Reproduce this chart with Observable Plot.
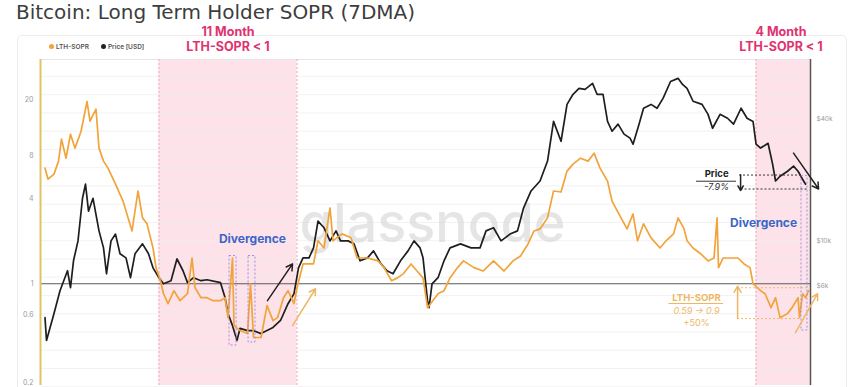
<!DOCTYPE html>
<html><head><meta charset="utf-8">
<script src="https://cdn.jsdelivr.net/npm/d3@7"></script>
<script src="https://cdn.jsdelivr.net/npm/@observablehq/plot@0.6"></script>
<style>
html,body{margin:0;padding:0;background:#fff;}
#wrap{position:relative;width:864px;height:387px;overflow:hidden;font-family:Inter,Roboto,"Noto Sans",sans-serif;}
#card{position:absolute;left:17px;top:35px;width:830px;height:380px;border:1px solid #ececec;border-radius:5px;box-sizing:border-box;}
#chart{position:absolute;left:0;top:0;}
#title{position:absolute;left:16px;top:2px;font-family:"DejaVu Sans",sans-serif;font-size:20px;line-height:20px;color:#3d3d3d;white-space:nowrap;}
.head{position:absolute;top:24px;width:140px;text-align:center;color:#e0326f;font-weight:700;font-size:12.5px;line-height:15px;}
#legend{position:absolute;left:49px;top:43px;font-size:6.5px;line-height:8px;color:#555;font-weight:600;white-space:nowrap;}
#legend .dot{display:inline-block;width:5px;height:5px;border-radius:50%;margin-right:2px;}
#legend .item{margin-right:12px;}
</style></head><body>
<div id="wrap">
<div id="card"></div>
<div id="chart"></div>
<div id="title">Bitcoin: Long Term Holder SOPR (7DMA)</div>
<div class="head" style="left:158px">11 Month<br>LTH-SOPR &lt; 1</div>
<div class="head" style="left:711px">4 Month<br>LTH-SOPR &lt; 1</div>
<div id="legend"><span class="item"><span class="dot" style="background:#f2a33a"></span>LTH-SOPR</span><span class="item"><span class="dot" style="background:#222"></span>Price [USD]</span></div>
</div>
<script>
// ---- data ----
const priceYear = [2017.69,2017.70,2017.75,2017.79,2017.84,2017.86,2017.88,2017.91,2017.94,2017.96,
2017.98,2018.01,2018.05,2018.08,2018.10,2018.13,2018.16,2018.19,2018.23,2018.26,
2018.29,2018.34,2018.38,2018.41,2018.45,2018.48,2018.53,2018.57,2018.61,2018.64,
2018.68,2018.73,2018.77,2018.86,2018.89,2018.91,2018.94,2018.97,2018.99,2019.04,
2019.08,2019.13,2019.17,2019.21,2019.26,2019.31,2019.35,2019.38,2019.41,2019.45,
2019.48,2019.51,2019.55,2019.59,2019.63,2019.66,2019.71,2019.75,2019.79,2019.84,
2019.88,2019.93,2019.97,2020.01,2020.06,2020.11,2020.15,2020.19,2020.21,2020.24,
2020.25,2020.27,2020.31,2020.35,2020.39,2020.46,2020.53,2020.59,2020.63,2020.68,
2020.73,2020.79,2020.84,2020.88,2020.93,2020.99,2021.04,2021.08,2021.13,2021.17,
2021.21,2021.25,2021.29,2021.34,2021.37,2021.41,2021.44,2021.47,2021.51,2021.55,
2021.59,2021.61,2021.65,2021.68,2021.73,2021.77,2021.81,2021.86,2021.91,2021.94,
2021.97,2022.01,2022.07,2022.11,2022.14,2022.19,2022.24,2022.28,2022.33,2022.37,
2022.41,2022.43,2022.46,2022.51,2022.54,2022.56,2022.59,2022.64,2022.68,2022.71,
2022.74,2022.76];
const priceK = [4.19,3.24,4.39,5.69,7.13,5.89,7.98,10.0,16.2,19.0,
14.0,16.2,11.2,9.24,6.89,10.0,10.8,8.64,8.25,6.59,
8.64,9.67,8.64,7.37,6.59,6.15,6.37,8.16,7.13,6.23,
6.59,6.37,6.44,6.23,5.26,4.39,3.83,3.24,3.71,3.62,
3.62,3.50,3.62,3.75,4.06,4.91,5.50,7.37,8.25,8.25,
9.24,12.5,11.6,10.0,11.2,10.0,10.0,9.67,7.98,8.25,
8.93,7.71,7.13,6.89,7.98,8.93,10.0,9.24,8.25,5.08,
4.70,6.15,6.59,7.98,9.24,9.67,9.24,9.24,11.2,11.6,
10.0,10.8,11.2,14.5,17.6,19.7,24.7,38.7,30.9,46.9,
52.6,56.2,55.6,59.5,52.6,52.6,38.7,34.6,37.5,33.5,
32.0,29.9,37.5,44.9,46.9,44.9,50.2,60.8,63.0,58.8,
56.2,48.6,46.9,41.9,35.8,41.9,40.1,37.5,44.9,40.1,
38.7,29.9,28.6,30.2,23.9,19.7,20.8,22.0,23.3,22.0,
20.1,19.0];
const soprYear = [2017.69,2017.71,2017.75,2017.78,2017.80,2017.83,2017.86,2017.89,2017.93,2017.97,
2017.99,2018.03,2018.05,2018.08,2018.11,2018.16,2018.21,2018.25,2018.27,2018.31,
2018.34,2018.37,2018.41,2018.43,2018.46,2018.48,2018.51,2018.55,2018.59,2018.64,
2018.67,2018.69,2018.73,2018.77,2018.81,2018.86,2018.89,2018.91,2018.94,2018.95,
2018.99,2019.04,2019.06,2019.08,2019.13,2019.17,2019.21,2019.24,2019.28,2019.31,
2019.35,2019.37,2019.41,2019.44,2019.48,2019.51,2019.55,2019.59,2019.61,2019.67,
2019.73,2019.77,2019.84,2019.91,2019.95,2020.00,2020.04,2020.08,2020.13,2020.17,
2020.21,2020.24,2020.26,2020.31,2020.35,2020.39,2020.44,2020.48,2020.55,2020.61,
2020.68,2020.75,2020.81,2020.86,2020.91,2020.95,2020.99,2021.04,2021.08,2021.13,
2021.17,2021.21,2021.26,2021.31,2021.35,2021.39,2021.44,2021.47,2021.53,2021.57,
2021.61,2021.64,2021.68,2021.73,2021.79,2021.83,2021.88,2021.91,2021.95,2021.97,
2022.01,2022.06,2022.11,2022.15,2022.17,2022.18,2022.21,2022.26,2022.31,2022.35,
2022.39,2022.41,2022.46,2022.49,2022.53,2022.56,2022.59,2022.64,2022.67,2022.71,
2022.72,2022.74,2022.76,2022.78];
const soprValue = [6.56,5.49,5.95,7.35,10.5,7.71,11.4,9.08,11.9,19.4,
14.1,17.1,9.08,7.35,6.56,5.06,3.84,2.78,2.36,4.52,
2.92,2.65,1.79,1.30,1.05,0.85,0.723,0.893,0.759,0.85,
1.52,0.937,0.797,0.797,0.759,0.759,0.797,0.576,1.52,0.506,
0.467,0.445,1.0,0.417,0.417,0.700,0.549,0.576,0.797,0.893,
0.723,0.937,1.38,1.38,1.38,2.01,1.79,3.43,2.01,2.25,
2.11,1.52,1.52,1.45,1.30,1.05,1.10,1.18,1.38,1.23,
1.10,0.678,0.723,0.85,0.893,1.10,1.30,1.45,1.30,1.23,
1.45,1.23,1.45,1.57,1.91,2.36,2.44,2.92,4.52,4.45,
6.25,7.00,7.71,7.35,8.37,6.56,5.31,3.84,2.92,2.44,
3.11,2.01,2.65,2.11,1.79,2.01,2.25,2.92,2.44,2.01,
1.79,1.63,1.45,1.52,2.92,1.30,1.52,1.52,1.52,1.38,
1.30,1.0,0.893,0.85,0.678,0.797,0.576,0.615,0.678,0.797,
0.576,0.85,0.797,0.893];

const leftTicks = [20, 8, 4, 1, 0.6, 0.2];
const rightTicksK = [40, 10, 6];
const rightLabels = ["$40k", "$10k", "$6k"];
const regionStart = [2018.45, 2022.43];
const regionEnd = [2019.37, 2022.793];
const xDomain = [2017.66, 2022.793];
const yDomain = [0.191, 38.4];

// annotations (data coordinates)
const divergenceX = [2019.073, 2022.48];
const divergenceY = [2.07, 2.69];
const boxX1 = [2018.92, 2019.047, 2022.733];
const boxX2 = [2018.967, 2019.093, 2022.773];
const boxY1 = [0.366, 0.384, 0.467];
const boxY2 = [1.57, 1.57, 5.76];
const arrowsBlack = [[2019.173, 0.759, 2019.34, 1.38], [2022.68, 8.38, 2022.847, 4.67], [2022.327, 5.9, 2022.327, 4.55]];
const arrowsOrange = [[2019.34, 0.506, 2019.493, 0.922], [2022.693, 0.452, 2022.84, 0.85], [2022.307, 0.567, 2022.307, 0.96]];
const dottedBlack = [[5.86, 2022.32, 2022.733], [4.67, 2022.33, 2022.773]];
const dottedOrange = [[0.937, 2022.307, 2022.773], [0.567, 2022.307, 2022.733]];

// right (price) axis mapped onto the left (SOPR) log axis
const priceToAxis = k => 10 ** ((43 + (Math.log10(k) - 1) * 204) / 142);

const priceRows = priceYear.map((t, i) => ({t, k: priceK[i]}));
const soprRows = soprYear.map((t, i) => ({t, v: soprValue[i]}));
const regions = regionStart.map((s, i) => ({s, e: regionEnd[i]}));
const boxes = boxX1.map((x1, i) => ({x1, x2: boxX2[i], y1: boxY1[i], y2: boxY2[i]}));
const gridVals = d3.range(0, 18).map(i => 10 ** (1.465 - 0.129 * i));
const toArrow = a => ({x1: a[0], y1: a[1], x2: a[2], y2: a[3]});
const toRule = a => ({y: a[0], x1: a[1], x2: a[2]});

const orange = "#f2a33a", orangeLight = "#eeb765", blue = "#3b66c6";

const chart = Plot.plot({
  width: 864, height: 387,
  marginLeft: 40, marginRight: 54, marginTop: 59, marginBottom: 2,
  x: {domain: xDomain, axis: null},
  y: {type: "log", domain: yDomain, axis: null},
  style: {background: "transparent", overflow: "visible", fontFamily: "Inter, Roboto, sans-serif"},
  marks: [
    Plot.rect(regions, {x1: "s", x2: "e", fill: "#fde2ea"}),
    Plot.ruleY(gridVals, {stroke: "#ededed", strokeWidth: 0.7}),
    Plot.ruleY([yDomain[1]], {stroke: "#e6e6e6", strokeWidth: 1}),
    Plot.ruleX([regionStart[0], regionEnd[0], regionStart[1]], {stroke: "#eaa6bf", strokeDasharray: "2,2", strokeWidth: 1}),
    Plot.text(["glassnode"], {frameAnchor: "middle", dx: 7, dy: 2, text: d => d, fontSize: 54, fontWeight: 500, fill: "#d4d4d4", fillOpacity: 0.6}),
    Plot.ruleY([1], {stroke: "#5a5a5a", strokeWidth: 1.2}),
    Plot.line(priceRows, {x: "t", y: d => priceToAxis(d.k), stroke: "#1e1e1e", strokeWidth: 1.7}),
    Plot.line(soprRows, {x: "t", y: "v", stroke: orange, strokeWidth: 1.7}),
    Plot.ruleX([xDomain[0]], {stroke: "#e3c263", strokeWidth: 2}),
    Plot.ruleX([xDomain[1]], {stroke: "#555", strokeWidth: 1.5}),
    Plot.text(leftTicks, {y: d => d, text: d => String(d), frameAnchor: "left", dx: -7, textAnchor: "end", fontSize: 7, fill: "#9a9a9a"}),
    Plot.text(rightTicksK, {y: d => priceToAxis(d), text: (d, i) => rightLabels[i], frameAnchor: "right", dx: 6, textAnchor: "start", fontSize: 6.5, fill: "#9a9a9a"}),
    Plot.rect(boxes, {x1: "x1", x2: "x2", y1: "y1", y2: "y2", fill: "none", stroke: "#9c90dc", strokeDasharray: "2,2", strokeWidth: 1}),
    Plot.ruleY(dottedBlack.map(toRule), {y: "y", x1: "x1", x2: "x2", stroke: "#333", strokeDasharray: "2,2", strokeWidth: 1}),
    Plot.ruleY(dottedOrange.map(toRule), {y: "y", x1: "x1", x2: "x2", stroke: orangeLight, strokeDasharray: "2,2", strokeWidth: 1}),
    Plot.arrow(arrowsBlack.map(toArrow), {x1: "x1", y1: "y1", x2: "x2", y2: "y2", stroke: "#222", strokeWidth: 1.5, headLength: 7}),
    Plot.arrow(arrowsOrange.map(toArrow), {x1: "x1", y1: "y1", x2: "x2", y2: "y2", stroke: orangeLight, strokeWidth: 1.5, headLength: 7}),
    Plot.text(divergenceX, {x: d => d, y: (d, i) => divergenceY[i], text: () => "Divergence", fontSize: 12, fontWeight: 700, fill: blue}),
    Plot.text(["Price"], {x: 2022.167, y: 5.95, text: d => d, fontSize: 9.5, fontWeight: 700, fill: "#222"}),
    Plot.ruleY([5.3], {x1: 2022.033, x2: 2022.30, stroke: "#333", strokeWidth: 1}),
    Plot.text(["-7.9%"], {x: 2022.167, y: 4.82, text: d => d, fontSize: 9, fontStyle: "italic", fill: "#333"}),
    Plot.text(["LTH-SOPR"], {x: 2022.033, y: 0.80, text: d => d, fontSize: 9.5, fontWeight: 700, fill: orangeLight}),
    Plot.ruleY([0.725], {x1: 2021.85, x2: 2022.213, stroke: orangeLight, strokeWidth: 1}),
    Plot.text(["0.59 → 0.9"], {x: 2022.033, y: 0.636, text: d => d, fontSize: 9, fontStyle: "italic", fill: orangeLight}),
    Plot.text(["+50%"], {x: 2022.033, y: 0.523, text: d => d, fontSize: 9, fill: orangeLight})
  ]
});
document.getElementById("chart").appendChild(chart);
</script></body></html>
